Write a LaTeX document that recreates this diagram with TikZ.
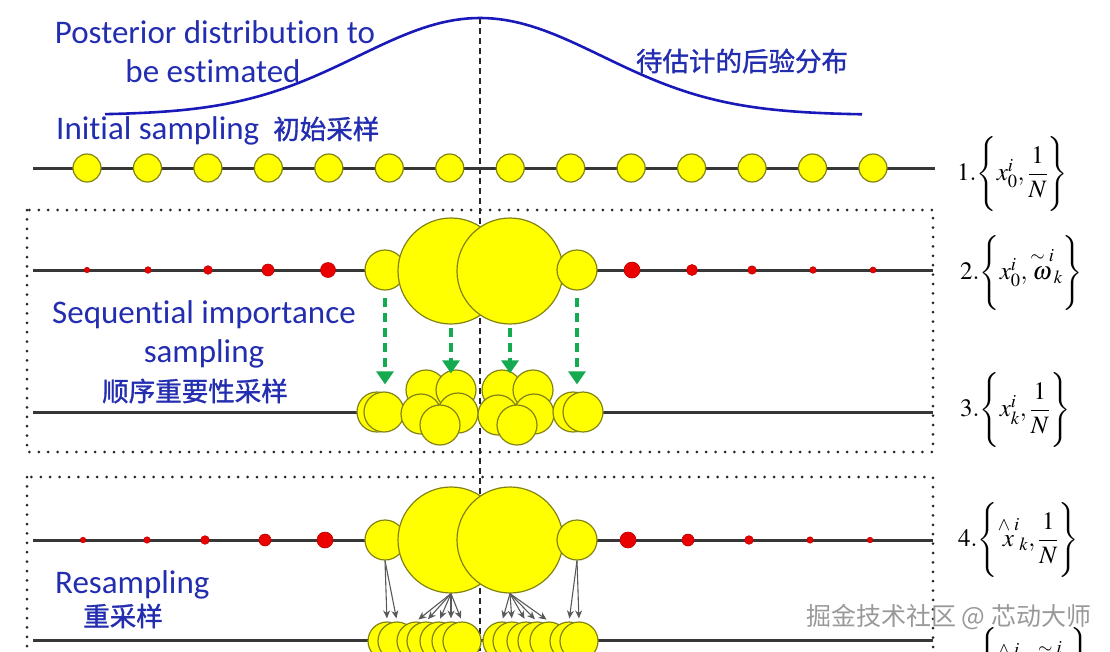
\documentclass[tikz,border=0pt]{standalone}
\usepackage{amsmath}
\usepackage{mathptmx}
\usepackage[no-math]{fontspec}
\setmainfont{Carlito}[Ligatures=NoCommon]
\newfontfamily\cjk{Noto Sans CJK SC}[FakeBold=1.2]
\newfontfamily\cjkmark{Noto Sans CJK SC}
\usepackage{xcolor}
\usetikzlibrary{arrows.meta}

\definecolor{labelblue}{RGB}{35,45,175}
\definecolor{curveblue}{RGB}{25,25,185}
\definecolor{pyellow}{RGB}{255,255,0}
\definecolor{pedge}{RGB}{130,130,20}
\definecolor{wred}{RGB}{235,0,0}
\definecolor{axisgray}{RGB}{55,55,55}
\definecolor{sisgreen}{RGB}{20,170,80}

\tikzset{
  axis line/.style={draw=axisgray, line width=3pt},
  particle/.style={circle, draw=pedge, fill=pyellow, line width=1.2pt, inner sep=0pt},
  weight/.style={circle, fill=wred, draw=wred!80!black, line width=0.6pt, inner sep=0pt},
  stage box/.style={draw=black!85, line width=3pt, line cap=round, dash pattern=on 0pt off 9.4pt},
  mean line/.style={draw=black!85, line width=2pt, dash pattern=on 6pt off 4pt},
  sis arrow/.style={draw=sisgreen, line width=3.2pt, dash pattern=on 9pt off 6pt, -{Triangle[length=13pt,width=17pt]}},
  resample arrow/.style={draw=black!65, line width=1.1pt, -{Stealth[length=8pt,width=7pt]}},
  en label/.style={text=labelblue, inner sep=0pt, font=\fontsize{33}{38}\selectfont},
  cn label/.style={text=labelblue, inner sep=0pt, font=\fontsize{26.5}{30}\selectfont\cjk},
  formula/.style={anchor=west, inner sep=0pt, font=\fontsize{25}{29}\selectfont},
}

\begin{document}
\begin{tikzpicture}[x=1pt,y=-1pt]
\useasboundingbox (0,0) rectangle (1110,651);
\clip (0,0) rectangle (1110,651);

% mean of the posterior
\coordinate (peak) at (480,18);
\coordinate (floor) at (480,651);
\draw[mean line] (peak) -- (floor);
\draw[curveblue, line width=2.6pt] plot[domain=105:862, samples=120]
  (\x,{115-97*exp(-0.5*((\x-480)/122)^2)});

\node[en label, anchor=base] (post1) at (215,43) {Posterior distribution to};
\node[en label, anchor=base] (post2) at (213,82) {be estimated};
\node[cn label] (postcn) at (742,61) {待估计的后验分布};
\node[en label, anchor=base west] (init) at (56,139) {Initial sampling\hspace{14pt}{\fontsize{26.5}{30}\selectfont\cjk 初始采样}};

% stage frames
\draw[stage box] (27,210) rectangle (933,452);
\draw[stage box] (27,477) rectangle (933,720);

% axes
\draw[axis line] (33,168) -- (935,168);
\draw[axis line] (33,270) -- (933,270);
\draw[axis line] (33,412) -- (933,412);
\draw[axis line] (33,540) -- (933,540);
\draw[axis line] (33,640) -- (933,640);

% 1. initial particles
\foreach \i in {0,...,13}
  \node[particle, minimum size=28pt] (p\i) at ({87+60.46*\i},168) {};

% 2. weights
\foreach \x/\r [count=\k] in {87/2.7,148/3.3,208/4.3,268/6,328/7.5,632/8,692/5.5,752/4.2,813/3.3,873/3}
  \node[weight, minimum size=2*\r pt] (wa\k) at (\x,270) {};
\node[particle, minimum size=40pt] (sL2) at (385,270) {};
\node[particle, minimum size=106pt] (bL2) at (451,271) {};
\node[particle, minimum size=106pt] (bR2) at (510,271) {};
\node[particle, minimum size=40pt] (sR2) at (577,270) {};

\node[en label, anchor=base] (sis1) at (204,323) {Sequential importance};
\node[en label, anchor=base] (sis2) at (204,362) {sampling};
\node[cn label] (sis3) at (195,391) {顺序重要性采样};

% 3. propagated particles
\foreach \n/\x/\y in {a1/377/412,a2/384/412,
    b1/426/390,b2/456/390,b3/421/414,b4/458/413,b5/440/425,
    c1/502/390,c2/533/390,c3/498/415,c4/534/414,c5/517/425,
    d1/573/412,d2/583/412}
  \node[particle, minimum size=40pt] (\n) at (\x,\y) {};

\draw[sis arrow, shorten <=7pt, shorten >=7pt] (sL2.south) -- (sL2.south |- a2.north);
\draw[sis arrow, shorten <=3pt, shorten >=-4pt] (bL2.south) -- (bL2.south |- b2.north);
\draw[sis arrow, shorten <=3pt, shorten >=-4pt] (bR2.south) -- (bR2.south |- c1.north);
\draw[sis arrow, shorten <=7pt, shorten >=7pt] (sR2.south) -- (sR2.south |- d1.north);

% 4. weights again
\foreach \x/\r [count=\k] in {83/2.8,147/3.2,205/4.3,265/6,325/8,628/8,688/6,749/4.3,810/3.2,870/2.8}
  \node[weight, minimum size=2*\r pt] (wb\k) at (\x,540) {};
\node[particle, minimum size=40pt] (sL4) at (385,540) {};
\node[particle, minimum size=106pt] (bL4) at (451,540) {};
\node[particle, minimum size=106pt] (bR4) at (510,540) {};
\node[particle, minimum size=40pt] (sR4) at (577,540) {};

\node[en label, anchor=base west] (res1) at (55,593) {Resampling};
\node[cn label] (res2) at (123,616) {重采样};

% 5. resampled particles
\foreach \x [count=\k] in {387,397,416,426,439,451,462,502,512,526,537,549,569,579}
  \node[particle, minimum size=38pt] (e\k) at (\x,641) {};

\foreach \t in {e1,e2}
  \draw[resample arrow, shorten >=3pt] (sL4.south) -- (\t.north);
\foreach \t in {e3,e4,e5,e6,e7}
  \draw[resample arrow, shorten >=3pt] (bL4.south) -- (\t.north);
\foreach \t in {e8,e9,e10,e11,e12}
  \draw[resample arrow, shorten >=3pt] (bR4.south) -- (\t.north);
\foreach \t in {e13,e14}
  \draw[resample arrow, shorten >=3pt] (sR4.south) -- (\t.north);

% particle sets
\node[formula] (f1) at (957,174) {$1.\Biggl\{x_0^i,\dfrac{1}{N}\Biggr\}$};
\node[formula] (f2) at (960,273) {$2.\Biggl\{x_0^i,\overset{\sim\;i}{\omega}{}_k\Biggr\}$};
\node[formula] (f3) at (960,410) {$3.\Biggl\{x_k^i,\dfrac{1}{N}\Biggr\}$};
\node[formula] (f4) at (958,540) {$4.\Biggl\{\overset{\wedge\;i}{x}{}_k,\dfrac{1}{N}\Biggr\}$};
\node[formula] (f5) at (958,665) {$5.\Biggl\{\overset{\wedge\;i}{x}{}_k,\overset{\sim\;i}{\omega}{}_k\Biggr\}$};

\node[anchor=west, inner sep=0pt, text=black!40, font=\fontsize{25}{28}\selectfont\cjkmark] (wm) at (806,617) {掘金技术社区 @ 芯动大师};
\end{tikzpicture}
\end{document}
